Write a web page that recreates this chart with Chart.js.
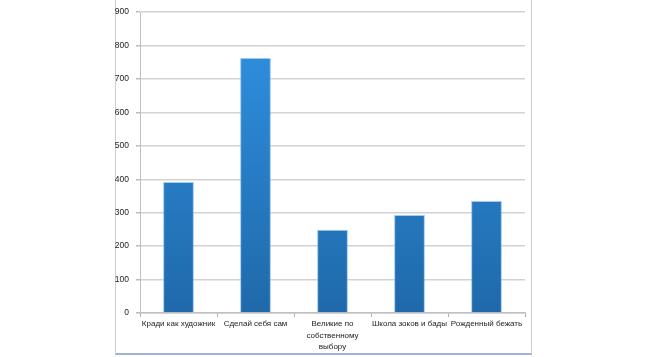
<!DOCTYPE html>
<html><head><meta charset="utf-8">
<script src="https://cdn.jsdelivr.net/npm/chart.js@4"></script>
<style>
html,body{margin:0;padding:0;background:#fff;}
#wrap{position:relative;width:648px;height:357px;}
#frame{position:absolute;left:115px;top:-4px;width:417px;height:359px;border:1px solid #cfcfcf;border-bottom:2px solid #9db3d8;box-sizing:border-box;}
canvas{position:absolute;left:0;top:0;}
</style></head>
<body><div id="wrap"><div id="frame"></div><canvas id="c" width="648" height="357"></canvas></div>
<script>
const categories = ["Кради как художник", "Сделай себя сам", ["Великие по", "собственному", "выбору"], "Школа зоков и бады", "Рожденный бежать"];
const values = [392, 763, 249, 293, 335];
const yTicks = [0, 100, 200, 300, 400, 500, 600, 700, 800, 900];

function grad(ctx){
  const ch = ctx.chart; const a = ch.chartArea;
  if(!a) return '#2b84d4';
  const g = ch.ctx.createLinearGradient(0, a.top, 0, a.bottom);
  g.addColorStop(0, '#3093e3');
  g.addColorStop(1, '#1f69aa');
  return g;
}
new Chart(document.getElementById('c'), {
  type: 'bar',
  data: { labels: categories, datasets: [{ data: values, backgroundColor: grad, borderColor: 'rgba(120,180,235,0.7)', borderWidth: 1, categoryPercentage: 0.8, barPercentage: 0.5 }] },
  options: {
    responsive: false, animation: false,
    layout: { padding: { top: 7, right: 123, left: 0, bottom: 0 } },
    plugins: { legend: { display: false }, tooltip: { enabled: false } },
    scales: {
      y: {
        min: 0, max: 900,
        afterFit: s => { s.width = 140; },
        afterBuildTicks: s => { s.ticks = yTicks.map(v => ({ value: v })); },
        ticks: { color: '#222', font: { family: 'Liberation Sans, Arial', size: 8.5 }, padding: 7 },
        grid: { color: '#d2d2d2', lineWidth: 1.5, tickLength: 4, tickColor: '#bbb' },
        border: { color: '#c0c0c0', width: 1 }
      },
      x: {
        afterFit: s => { s.height = 44; },
        ticks: { color: '#222', font: { family: 'Liberation Sans, Arial', size: 8, lineHeight: 1.45 }, maxRotation: 0, minRotation: 0, autoSkip: false, padding: 1 },
        grid: { drawOnChartArea: false, offset: true, tickLength: 4, color: '#b0b0b0' },
        border: { color: '#c0c0c0', width: 1.5 }
      }
    }
  }
});
</script></body></html>
